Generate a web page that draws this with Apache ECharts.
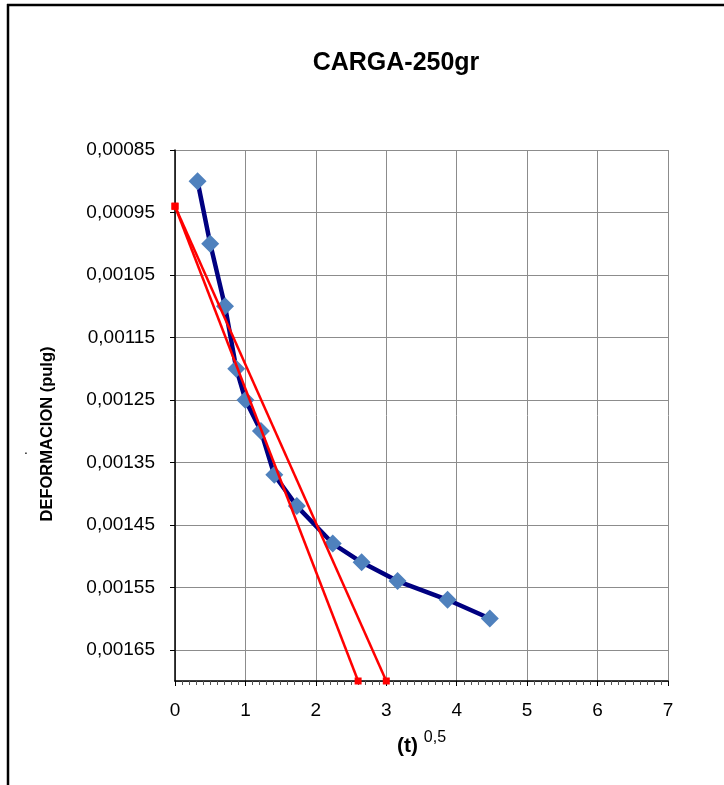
<!DOCTYPE html>
<html>
<head>
<meta charset="utf-8">
<title>CARGA-250gr</title>
<script src="https://cdn.jsdelivr.net/npm/echarts@6/dist/echarts.min.js"></script>
<style>
  html, body { margin: 0; padding: 0; background: #ffffff; }
  #chart { width: 724px; height: 785px; }
</style>
</head>
<body>
<div id="chart"></div>
<script>
// Square root of elapsed time, (t)^0,5
const raizTiempo = [0.32, 0.50, 0.71, 0.87, 1.00, 1.22, 1.41, 1.73, 2.24, 2.65, 3.16, 3.87, 4.47];
// Dial reading, deformation in inches
const deformacion = [0.00090, 0.00100, 0.00110, 0.00120, 0.00125, 0.00130, 0.00137, 0.00142, 0.00148, 0.00151, 0.00154, 0.00157, 0.00160];

// Construction lines (Taylor method): start point and end points
const rectaInicial = [[0, 0.00094], [2.6, 0.0017]];
const rectaCorregida = [[0, 0.00094], [3.0, 0.0017]];

// Axis ranges and tick labels
const xTicks = ['0', '1', '2', '3', '4', '5', '6', '7'];
const yMin = 0.00085, yMax = 0.0017, yStep = 0.0001;

const FONT = '"Liberation Sans", Arial, sans-serif';

const puntos = raizTiempo.map((x, i) => [x, deformacion[i]]);

const chart = echarts.init(document.getElementById('chart'), null, { renderer: 'canvas' });

chart.setOption({
  animation: false,
  backgroundColor: '#ffffff',
  grid: { left: 175, top: 150, width: 493, height: 531, containLabel: false },
  xAxis: {
    type: 'value',
    min: 0,
    max: 7,
    interval: 1,
    position: 'bottom',
    axisLine: { onZero: false, lineStyle: { color: '#000000', width: 1.5 } },
    axisTick: { show: true, inside: false, length: 5, lineStyle: { color: '#000000' } },
    minorTick: { show: true, splitNumber: 10, length: 4, lineStyle: { color: '#555555' } },
    splitLine: { show: true, lineStyle: { color: '#8c8c8c', width: 1 } },
    axisLabel: {
      margin: 20,
      fontFamily: FONT,
      fontSize: 19,
      color: '#000000',
      formatter: v => xTicks[Math.round(v)] ?? ''
    },
    name: '{b|(t)}{s|0,5}',
    nameLocation: 'middle',
    nameGap: 46,
    nameTextStyle: {
      rich: {
        b: { fontFamily: FONT, fontSize: 21, fontWeight: 'bold', color: '#000000', lineHeight: 30, verticalAlign: 'bottom' },
        s: { fontFamily: FONT, fontSize: 16, color: '#000000', lineHeight: 30, verticalAlign: 'top', padding: [3, 0, 0, 6] }
      }
    }
  },
  yAxis: {
    type: 'value',
    inverse: true,
    min: yMin,
    max: yMax,
    interval: yStep,
    axisLine: { show: true, lineStyle: { color: '#000000', width: 1.5 } },
    axisTick: { show: true, inside: false, length: 5, lineStyle: { color: '#000000' } },
    splitLine: { show: true, lineStyle: { color: '#8c8c8c', width: 1 } },
    axisLabel: {
      margin: 20,
      fontFamily: FONT,
      fontSize: 19,
      color: '#000000',
      showMaxLabel: false,
      formatter: v => {
        const k = (v - yMin) / yStep;
        if (Math.abs(k - Math.round(k)) > 1e-6) return '';
        return (yMin + Math.round(k) * yStep).toFixed(5).replace('.', ',');
      }
    }
  },
  graphic: [
    { type: 'line', shape: { x1: 8, y1: 4, x2: 8, y2: 785 }, style: { stroke: '#000000', lineWidth: 2.5 } },
    { type: 'line', shape: { x1: 7, y1: 5, x2: 724, y2: 5 }, style: { stroke: '#000000', lineWidth: 2.5 } },
    {
      type: 'text', x: 396, y: 63,
      style: { text: 'CARGA-250gr', font: 'bold 25px ' + FONT, fill: '#000000', textAlign: 'center', textVerticalAlign: 'middle' }
    },
    {
      // vertical axis title
      type: 'text', x: 47, y: 434, rotation: Math.PI / 2,
      style: { text: 'DEFORMACION (pulg)', font: 'bold 16.5px ' + FONT, fill: '#000000', textAlign: 'center', textVerticalAlign: 'middle' }
    },
    {
      type: 'text', x: 26, y: 450,
      style: { text: '.', font: '14px ' + FONT, fill: '#000000', textAlign: 'center', textVerticalAlign: 'middle' }
    }
  ],
  series: [
    {
      name: 'Deformación',
      type: 'line',
      data: puntos,
      lineStyle: { color: '#000080', width: 4.5 },
      itemStyle: { color: '#4F81BD' },
      symbol: 'diamond',
      symbolSize: 18,
      z: 3
    },
    {
      name: 'Recta 1',
      type: 'line',
      data: rectaInicial,
      lineStyle: { color: '#ff0000', width: 2.5 },
      itemStyle: { color: '#ff0000' },
      symbol: 'rect',
      symbolSize: 7,
      z: 4
    },
    {
      name: 'Recta 2',
      type: 'line',
      data: rectaCorregida,
      lineStyle: { color: '#ff0000', width: 2.5 },
      itemStyle: { color: '#ff0000' },
      symbol: 'rect',
      symbolSize: 7,
      z: 4
    }
  ]
});
</script>
</body>
</html>
